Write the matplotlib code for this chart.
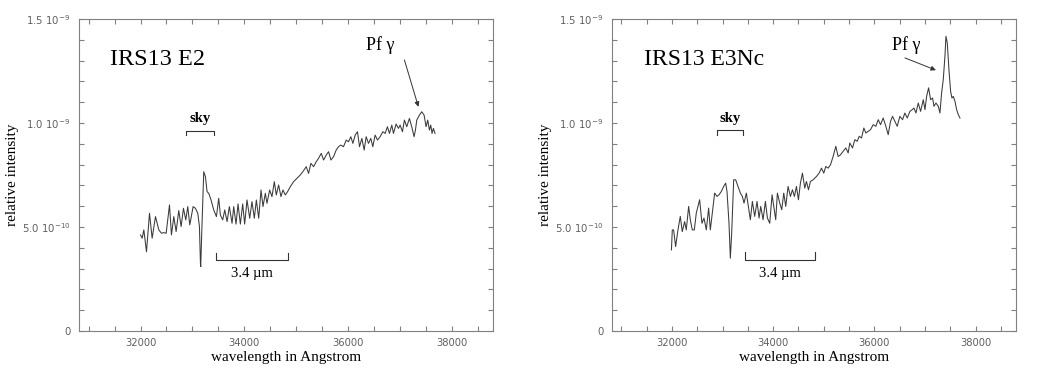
import matplotlib
matplotlib.use("Agg")
import matplotlib.pyplot as plt
from matplotlib.ticker import MultipleLocator, FixedLocator, FixedFormatter

# ---------------- data (intensity in units of 1e-10) ----------------
wl_e2 = [32000, 32032, 32064, 32115, 32173, 32224, 32288, 32353, 32404, 32449,
         32494, 32558, 32596, 32641, 32686, 32737, 32782, 32827, 32872, 32910,
         32949, 33013, 33058, 33103, 33135, 33154, 33160, 33179, 33218, 33250,
         33282, 33314, 33359, 33410, 33462, 33506, 33538, 33583, 33622, 33667,
         33711, 33763, 33795, 33840, 33878, 33923, 33968, 34006, 34051, 34103,
         34147, 34192, 34231, 34276, 34321, 34359, 34404, 34436, 34487, 34532,
         34577, 34615, 34660, 34705, 34744, 34788, 34833, 34885, 34949, 35013,
         35077, 35141, 35192, 35237, 35282, 35333, 35385, 35429, 35481, 35526,
         35577, 35622, 35667, 35718, 35769, 35814, 35859, 35910, 35962, 36006,
         36051, 36090, 36135, 36179, 36218, 36263, 36308, 36346, 36391, 36436,
         36474, 36519, 36564, 36615, 36667, 36712, 36756, 36795, 36840, 36872,
         36923, 36968, 37000, 37045, 37083, 37128, 37179, 37224, 37269, 37295,
         37321, 37372, 37417, 37462, 37500, 37532, 37564, 37590, 37615, 37641,
         37673]
int_e2 = [4.62, 4.46, 4.86, 3.81, 5.66, 4.46, 5.50, 4.86, 4.70, 4.73,
          4.70, 6.06, 4.62, 5.50, 4.78, 5.79, 5.02, 5.90, 5.34, 5.98,
          5.10, 5.98, 5.90, 5.66, 5.02, 3.26, 3.10, 4.70, 7.66, 7.42,
          6.70, 6.62, 6.30, 5.82, 5.50, 6.38, 5.58, 5.34, 5.82, 5.26,
          5.98, 5.18, 5.98, 5.14, 6.11, 5.14, 6.11, 5.14, 6.30, 5.42,
          6.22, 5.42, 6.30, 5.42, 6.78, 5.98, 6.62, 6.14, 6.78, 6.46,
          7.18, 6.54, 7.02, 6.46, 6.78, 6.54, 6.70, 6.94, 7.18, 7.34,
          7.50, 7.71, 7.90, 7.58, 8.06, 7.90, 8.14, 8.30, 8.54, 8.22,
          8.46, 8.62, 8.22, 8.38, 8.70, 8.86, 8.94, 8.86, 9.18, 9.10,
          9.34, 9.02, 9.42, 9.58, 8.86, 9.26, 8.70, 9.34, 9.02, 9.26,
          8.86, 9.42, 9.18, 9.34, 9.58, 9.50, 9.82, 9.50, 9.90, 9.50,
          9.95, 9.74, 9.90, 9.58, 10.14, 9.82, 10.22, 9.82, 9.34, 9.66,
          10.14, 10.38, 10.54, 10.38, 9.82, 10.14, 9.66, 9.90, 9.50, 9.74,
          9.50]

wl_e3 = [31990, 32007, 32033, 32073, 32119, 32165, 32204, 32251, 32283, 32330,
         32363, 32402, 32442, 32481, 32547, 32593, 32633, 32679, 32725, 32758,
         32798, 32844, 32890, 32930, 32976, 33022, 33061, 33088, 33127, 33154,
         33180, 33220, 33259, 33305, 33352, 33391, 33424, 33470, 33510, 33549,
         33589, 33635, 33681, 33721, 33754, 33800, 33846, 33886, 33932, 33978,
         34011, 34050, 34083, 34130, 34169, 34209, 34248, 34294, 34341, 34380,
         34420, 34459, 34499, 34538, 34578, 34624, 34657, 34697, 34736, 34789,
         34855, 34907, 34954, 35000, 35039, 35086, 35132, 35184, 35237, 35283,
         35329, 35382, 35435, 35481, 35514, 35567, 35613, 35659, 35699, 35745,
         35791, 35831, 35877, 35923, 35976, 36028, 36075, 36121, 36173, 36226,
         36272, 36318, 36358, 36404, 36450, 36503, 36556, 36602, 36648, 36701,
         36747, 36780, 36820, 36866, 36912, 36965, 36998, 37031, 37070, 37110,
         37149, 37176, 37215, 37262, 37294, 37327, 37360, 37393, 37413, 37439,
         37472, 37505, 37531, 37558, 37591, 37624, 37657, 37690]
int_e3 = [3.90, 4.86, 4.86, 4.06, 4.86, 5.51, 4.78, 5.26, 4.86, 5.99,
          5.35, 4.86, 4.86, 5.67, 6.31, 5.18, 5.43, 4.86, 5.91, 4.86,
          5.67, 6.63, 6.47, 6.55, 6.71, 6.95, 7.11, 6.71, 5.18, 3.50,
          4.70, 7.27, 7.27, 6.95, 6.63, 6.47, 6.15, 6.63, 5.99, 5.35,
          6.23, 5.51, 6.23, 5.43, 5.99, 5.35, 6.23, 5.43, 5.18, 6.55,
          5.99, 5.35, 6.63, 6.15, 5.83, 6.63, 5.99, 6.95, 6.47, 6.79,
          6.47, 6.95, 6.31, 7.11, 7.59, 6.87, 7.19, 6.79, 7.19, 7.27,
          7.43, 7.59, 7.83, 7.59, 7.91, 7.83, 7.99, 8.39, 8.88, 8.39,
          8.47, 8.64, 8.80, 8.56, 9.04, 8.80, 9.20, 9.12, 9.36, 9.28,
          9.76, 9.52, 9.60, 9.68, 9.92, 9.84, 10.16, 9.92, 10.24, 9.84,
          9.44, 10.08, 10.32, 10.08, 9.84, 10.32, 10.16, 10.48, 10.24, 10.56,
          10.64, 10.72, 10.48, 10.96, 10.56, 11.12, 10.64, 11.28, 11.69, 11.12,
          11.20, 10.80, 10.96, 10.80, 10.48, 11.44, 12.09, 13.21, 14.17, 13.85,
          12.57, 11.52, 11.20, 11.28, 11.04, 10.64, 10.40, 10.24]

titles = ["IRS13 E2", "IRS13 E3Nc"]
ytick_vals = [0, 5e-10, 1.0e-9, 1.5e-9]
ytick_labels = ["0", r"5.0 10$^{-10}$", r"1.0 10$^{-9}$", r"1.5 10$^{-9}$"]
xtick_vals = [32000, 34000, 36000, 38000]
xtick_labels = ["32000", "34000", "36000", "38000"]

# annotation anchors (data units: wavelength, intensity*1e-10)
sky_span = [(32885, 33410), (32890, 33405)]
sky_y = [9.63, 9.65]
band_span = [(33455, 34833), (33450, 34828)]
band_y = [3.41, 3.42]
pf_text = [(36615, 13.75), (36635, 13.77)]
pf_arrow = [((37083, 13.03), (37352, 10.78)), ((36602, 13.13), (37215, 12.54))]

plt.rcParams['mathtext.fontset'] = 'dejavusans'
serif = "Liberation Serif"
gray = "#808080"
tickc = "#606060"

fig = plt.figure(figsize=(10.56, 3.71), dpi=100)
positions = [[0.0748, 0.1078, 0.3921, 0.841], [0.5795, 0.1078, 0.3823, 0.841]]
series = [(wl_e2, int_e2), (wl_e3, int_e3)]
title_sizes = [17.5, 17.0]

for i in range(2):
    ax = fig.add_axes(positions[i])
    wl, it = series[i]
    ax.plot(wl, [v * 1e-10 for v in it], color="#3a3a3a", lw=0.75)
    ax.set_xlim(30815, 38790)
    ax.set_ylim(0, 1.5e-9)
    for s in ax.spines.values():
        s.set_color(gray)
        s.set_linewidth(0.8)
    ax.xaxis.set_major_locator(FixedLocator(xtick_vals))
    ax.xaxis.set_major_formatter(FixedFormatter(xtick_labels))
    ax.xaxis.set_minor_locator(MultipleLocator(500))
    ax.yaxis.set_major_locator(FixedLocator(ytick_vals))
    ax.yaxis.set_major_formatter(FixedFormatter(ytick_labels))
    ax.yaxis.set_minor_locator(MultipleLocator(1e-10))
    ax.tick_params(which="both", direction="in", top=True, right=True,
                   length=3.5, width=0.8, color=gray)
    ax.tick_params(axis="x", which="major", labelsize=7.2, labelcolor=tickc, pad=5)
    ax.tick_params(axis="y", which="major", labelsize=7.3, labelcolor=tickc, pad=6)
    ax.set_xlabel("wavelength in Angstrom", fontfamily=serif, fontsize=11, labelpad=2)
    ax.set_ylabel("relative intensity", fontfamily=serif, fontsize=11, labelpad=2)

    ax.text(0.075 if i == 0 else 0.08, 0.87, titles[i], transform=ax.transAxes,
            fontfamily=serif, fontsize=title_sizes[i], va="center", ha="left")

    # sky bracket
    x0, x1 = sky_span[i]
    y = sky_y[i] * 1e-10
    ax.plot([x0, x0, x1, x1], [y - 0.22e-10, y, y, y - 0.22e-10], color="#333333", lw=0.8)
    ax.text((x0 + x1) / 2, y + 0.25e-10, "sky", fontfamily=serif, fontsize=10.5,
            fontweight="bold", ha="center", va="bottom")

    # 3.4 micron bracket
    x0, x1 = band_span[i]
    y = band_y[i] * 1e-10
    ax.plot([x0, x0, x1, x1], [y + 0.36e-10, y, y, y + 0.36e-10], color="#333333", lw=0.8)
    ax.text((x0 + x1) / 2, y - 0.35e-10, "3.4 µm", fontfamily=serif, fontsize=10.5,
            ha="center", va="top")

    # Pf gamma
    tx, ty = pf_text[i]
    ax.text(tx, ty * 1e-10, "Pf γ", fontfamily=serif, fontsize=13, ha="center", va="center")
    (ax0, ay0), (ax1, ay1) = pf_arrow[i]
    ax.annotate("", xy=(ax1, ay1 * 1e-10), xytext=(ax0, ay0 * 1e-10),
                arrowprops=dict(arrowstyle="-|>", color="#333333", lw=0.7,
                                mutation_scale=7, shrinkA=0, shrinkB=0))

fig.savefig("out.png", dpi=100)
